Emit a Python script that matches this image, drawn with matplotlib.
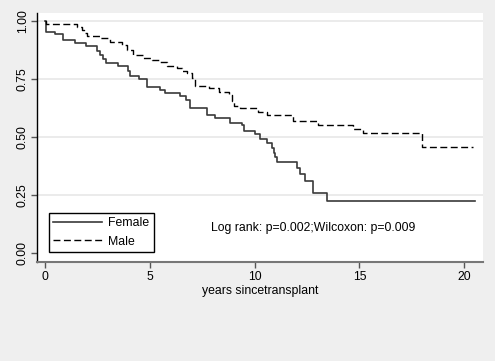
import matplotlib
matplotlib.use("Agg")
import matplotlib.pyplot as plt

plt.rcParams['font.family'] = ['Liberation Sans', 'DejaVu Sans']

female_t = [0, 0.05, 0.48, 0.85, 1.4, 1.92, 2.45, 2.6, 2.75, 2.92, 3.45, 3.95, 4.05,
            4.47, 4.86, 5.48, 5.72, 6.43, 6.72, 6.9, 7.71, 8.1, 8.82, 9.38, 9.49,
            10.01, 10.25, 10.57, 10.83, 10.9, 10.97, 11.05, 12.0, 12.16, 12.4, 12.8,
            13.44, 20.5]
female_s = [1.0, 0.951, 0.942, 0.918, 0.905, 0.892, 0.87, 0.853, 0.836, 0.819, 0.806,
            0.784, 0.763, 0.75, 0.717, 0.703, 0.688, 0.675, 0.66, 0.626, 0.595, 0.581,
            0.562, 0.55, 0.528, 0.511, 0.491, 0.473, 0.453, 0.431, 0.414, 0.391, 0.365,
            0.341, 0.312, 0.257, 0.225, 0.225]

male_t = [0, 0.05, 1.5, 1.74, 1.85, 1.98, 2.61, 3.09, 3.65, 3.89, 4.2, 4.66, 5.1, 5.48,
          5.81, 6.29, 6.53, 6.77, 6.99, 7.15, 7.82, 8.3, 8.77, 8.9, 9.0, 9.3, 10.17,
          10.57, 11.84, 13.04, 14.71, 15.19, 17.97, 20.44]
male_s = [1.0, 0.987, 0.976, 0.96, 0.947, 0.937, 0.925, 0.911, 0.897, 0.875, 0.853,
          0.84, 0.83, 0.822, 0.808, 0.796, 0.785, 0.775, 0.755, 0.72, 0.71, 0.695, 0.68,
          0.655, 0.635, 0.625, 0.609, 0.595, 0.569, 0.552, 0.534, 0.516, 0.458, 0.458]

x_ticks = [0, 5, 10, 15, 20]
y_ticks = [0.0, 0.25, 0.5, 0.75, 1.0]
y_labels = ["0.00", "0.25", "0.50", "0.75", "1.00"]

FS = 8.8

fig = plt.figure(figsize=(4.95, 3.61), dpi=100)
fig.patch.set_facecolor('#efefef')
ax = fig.add_axes([37/495, 1-262/361, 446/495, 249/361])
ax.set_facecolor('white')

ax.step(female_t, female_s, where='post', color='#3a3a3a', lw=1.2, label='Female')
ax.step(male_t, male_s, where='post', color='black', lw=1.0, dashes=(5, 2.5), label='Male')

ax.set_xlim(-0.396, 20.90)
ax.set_ylim(-0.0388, 1.0345)
ax.set_xticks(x_ticks)
ax.set_yticks(y_ticks)
ax.set_yticklabels(y_labels, rotation=90, va='center')
for y in y_ticks[1:]:
    ax.axhline(y, color='#e8e8e8', lw=1.2, zorder=0)

for s in ['top', 'right']:
    ax.spines[s].set_visible(False)
ax.spines['left'].set_color('black')
ax.spines['left'].set_linewidth(1.0)
ax.spines['bottom'].set_color('#777777')
ax.spines['bottom'].set_linewidth(1.5)
ax.tick_params(axis='both', direction='out', length=4, width=1, colors='#555555',
               labelcolor='black', labelsize=FS)
ax.tick_params(axis='y', pad=2)
ax.tick_params(axis='x', pad=2.5)

ax.set_xlabel('years sincetransplant', fontsize=FS, labelpad=1.5)

ax.text(0.390, 0.138, 'Log rank: p=0.002;Wilcoxon: p=0.009', transform=ax.transAxes,
        fontsize=FS, va='center', ha='left')

leg = ax.legend(loc='lower left', bbox_to_anchor=(0.027, 0.04), fontsize=FS,
                fancybox=False, edgecolor='black', framealpha=1, handlelength=4.0,
                borderpad=0.35, labelspacing=0.55, handletextpad=0.5, borderaxespad=0)
leg.get_frame().set_linewidth(1.0)

fig.savefig('out.png', dpi=100, facecolor=fig.get_facecolor())
